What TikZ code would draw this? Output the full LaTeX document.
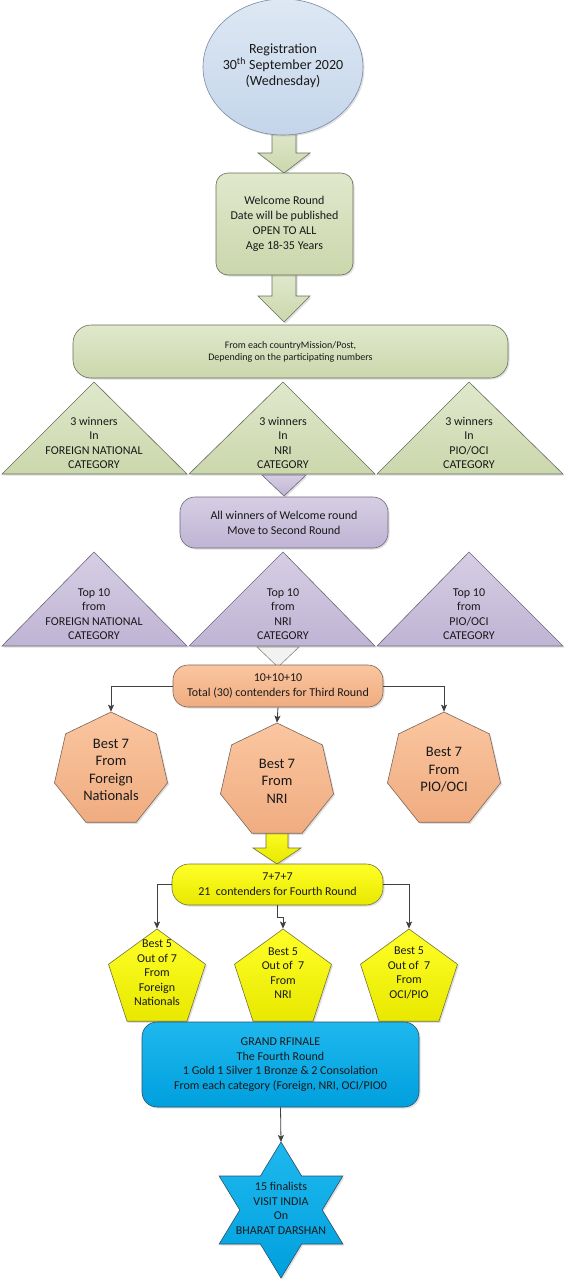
\documentclass[tikz,border=0pt]{standalone}
\usepackage{fontspec}
\setmainfont{Carlito}
\usetikzlibrary{shapes.geometric,arrows.meta,shadows}
\definecolor{txt}{RGB}{25,25,25}
\definecolor{lnk}{RGB}{64,64,64}
\definecolor{bluetop}{RGB}{222,232,244}
\definecolor{bluebot}{RGB}{196,213,234}
\definecolor{blueln}{RGB}{120,138,165}
\definecolor{grtop}{RGB}{224,232,204}
\definecolor{grbot}{RGB}{203,215,172}
\definecolor{grln}{RGB}{105,110,92}
\definecolor{putop}{RGB}{214,206,228}
\definecolor{pubot}{RGB}{191,180,212}
\definecolor{puln}{RGB}{110,104,122}
\definecolor{ortop}{RGB}{250,198,160}
\definecolor{orbot}{RGB}{240,172,128}
\definecolor{orln}{RGB}{120,102,90}
\definecolor{yetop}{RGB}{255,255,40}
\definecolor{yebot}{RGB}{232,232,0}
\definecolor{yeln}{RGB}{115,115,60}
\definecolor{cytop}{RGB}{30,184,238}
\definecolor{cybot}{RGB}{0,160,222}
\definecolor{cyln}{RGB}{45,80,105}
\tikzset{
  shad/.style={drop shadow={opacity=0.25,shadow xshift=1.5pt,shadow yshift=-1.5pt}},
  gshape/.style={draw=grln,line width=0.6pt,top color=grtop,bottom color=grbot,shad},
  pshape/.style={draw=puln,line width=0.6pt,top color=putop,bottom color=pubot,shad},
  oshape/.style={draw=orln,line width=0.6pt,top color=ortop,bottom color=orbot,shad},
  yshape/.style={draw=yeln,line width=0.6pt,top color=yetop,bottom color=yebot,shad},
  cshape/.style={draw=cyln,line width=0.6pt,top color=cytop,bottom color=cybot,shad},
  rbox/.style={rectangle,rounded corners=#1,align=center,text=txt,inner sep=2pt},
  lbl/.style={align=center,text=txt,inner sep=0pt},
  f10/.style={font=\fontsize{10}{12}\selectfont},
  f12/.style={font=\fontsize{12}{14.5}\selectfont},
  f12w/.style={font=\fontsize{12}{15}\selectfont},
  f14/.style={font=\fontsize{14}{16}\selectfont},
  f145/.style={font=\fontsize{14.5}{17.5}\selectfont},
  conn/.style={draw=lnk,line width=0.8pt,-{Stealth[length=7pt,width=6pt,inset=1.5pt]}},
}
\begin{document}
\begin{tikzpicture}[x=1pt,y=-1pt]
\useasboundingbox (0,0) rectangle (565,1280);
\fill[white] (0,0) rectangle (565,1280);

% block arrows
\path[gshape] (272,128) -- (296,128) -- (296,153) -- (310,153) -- (284,173) -- (258,153) -- (272,153) -- cycle;
\path[gshape] (272,274) -- (296,274) -- (296,296) -- (310,296) -- (284,322) -- (258,296) -- (272,296) -- cycle;

% registration ellipse
\node[ellipse,minimum width=160pt,minimum height=136pt,inner sep=0pt,draw=blueln,line width=0.6pt,top color=bluetop,bottom color=bluebot,shad] (reg) at (283,67) {};
\node[lbl,f14] (regtxt) at (283,66) {Registration\\30\textsuperscript{th} September 2020\\(Wednesday)};

% welcome round
\node[rbox=12pt,gshape,f12w,minimum width=137pt,minimum height=102pt] (welcome) at (284.5,224) {Welcome Round\\Date will be published\\OPEN TO ALL\\Age 18-35 Years};

% wide box
\node[rbox=18pt,gshape,f10,minimum width=435pt,minimum height=53pt] (each) at (290.5,351.5) {From each countryMission/Post,\\Depending on the participating numbers};

% row 1 triangles
\path[gshape] (2,474) -- (94,382) -- (187,474) -- cycle;
\path[gshape] (189,474) -- (283,382) -- (375,474) -- cycle;
\path[gshape] (377,474) -- (469,382) -- (563,474) -- cycle;
\node[lbl,f12] (w1) at (94,443) {3 winners\\In\\FOREIGN NATIONAL\\CATEGORY};
\node[lbl,f12] (w2) at (283,443) {3 winners\\In\\NRI\\CATEGORY};
\node[lbl,f12] (w3) at (469,443) {3 winners\\In\\PIO/OCI\\CATEGORY};
\path[pshape] (262,475) -- (306,475) -- (284,496) -- cycle;

% second round box
\node[rbox=15pt,pshape,f12w,minimum width=208pt,minimum height=51pt] (second) at (284,522.5) {All winners of Welcome round\\Move to Second Round};

% row 2 triangles
\path[pshape] (2,646) -- (94,552) -- (187,646) -- cycle;
\path[pshape] (189,646) -- (283,552) -- (375,646) -- cycle;
\path[pshape] (377,646) -- (469,552) -- (563,646) -- cycle;
\node[lbl,f12] (p1) at (94,614) {Top 10\\from\\FOREIGN NATIONAL\\CATEGORY};
\node[lbl,f12] (p2) at (283,614) {Top 10\\from\\NRI\\CATEGORY};
\node[lbl,f12] (p3) at (469,614) {Top 10\\from\\PIO/OCI\\CATEGORY};
\path[draw=grln!80,line width=0.6pt,fill=black!5] (257,647) -- (299,647) -- (278,667) -- cycle;

% yellow block arrow (under heptagon)
\path[yshape] (266,826) -- (288,826) -- (288,848) -- (301,848) -- (277,864) -- (253,848) -- (266,848) -- cycle;

% third round box
\node[rbox=15pt,oshape,f12w,minimum width=210pt,minimum height=42pt] (third) at (278,686) {10+10+10\\Total (30) contenders for Third Round};

% heptagons
\node[regular polygon,regular polygon sides=7,minimum size=116pt,inner sep=0pt,oshape] (hepL) at (111,770) {};
\node[regular polygon,regular polygon sides=7,minimum size=116pt,inner sep=0pt,oshape] (hepM) at (277,781) {};
\node[regular polygon,regular polygon sides=7,minimum size=116pt,inner sep=0pt,oshape] (hepR) at (444,770) {};
\node[lbl,f145] at (hepL) {Best 7\\From\\Foreign\\Nationals};
\node[lbl,f145] at (hepM) {Best 7\\From\\NRI};
\node[lbl,f145] at (hepR) {Best 7\\From\\PIO/OCI};
\draw[conn] (third.west) -| (hepL.north);
\draw[conn] (third.east) -| (hepR.north);
\draw[conn] (third.south) -- (hepM.north);

% fourth round box
\node[rbox=17pt,yshape,f12w,minimum width=211pt,minimum height=41pt] (fourth) at (277.5,884.5) {7+7+7\\21\ \ contenders for Fourth Round};

% pentagons
\node[regular polygon,regular polygon sides=5,minimum size=102pt,inner sep=0pt,yshape] (penL) at (157,980) {};
\node[regular polygon,regular polygon sides=5,minimum size=102pt,inner sep=0pt,yshape] (penM) at (283,980) {};
\node[regular polygon,regular polygon sides=5,minimum size=102pt,inner sep=0pt,yshape] (penR) at (409,980) {};
\node[lbl,f12] at (157,973) {Best 5\\Out of 7\\From\\Foreign\\Nationals};
\node[lbl,f12] at (283,973) {Best 5\\Out of\ \ 7\\From\\NRI};
\node[lbl,f12] at (409,973) {Best 5\\Out of\ \ 7\\From\\OCI/PIO};
\draw[conn] (fourth.west) -| (penL.north);
\draw[conn] (fourth.east) -| (penR.north);
\draw[conn] (fourth.south) -- ++(0,12) -| (penM.north);

% grand finale
\node[rbox=15pt,cshape,f12,minimum width=277pt,minimum height=85pt] (grand) at (280.5,1064.5) {GRAND RFINALE\\The Fourth Round\\1 Gold 1 Silver 1 Bronze \& 2 Consolation\\From each category (Foreign, NRI, OCI/PIO0};

% star
\begin{scope}[shift={(281,1210)},xscale=1.05]
\path[cshape] (90:68) -- (60:39.26) -- (30:68) -- (0:39.26) -- (-30:68) -- (-60:39.26) -- (-90:68) -- (-120:39.26) -- (-150:68) -- (180:39.26) -- (150:68) -- (120:39.26) -- cycle;
\coordinate (startop) at (-90:68);
\end{scope}
\node[lbl,f12] (star) at (281,1208.5) {15 finalists\\VISIT INDIA\\On\\BHARAT DARSHAN};
\draw[conn] (grand.south) -- (startop);
\end{tikzpicture}
\end{document}
